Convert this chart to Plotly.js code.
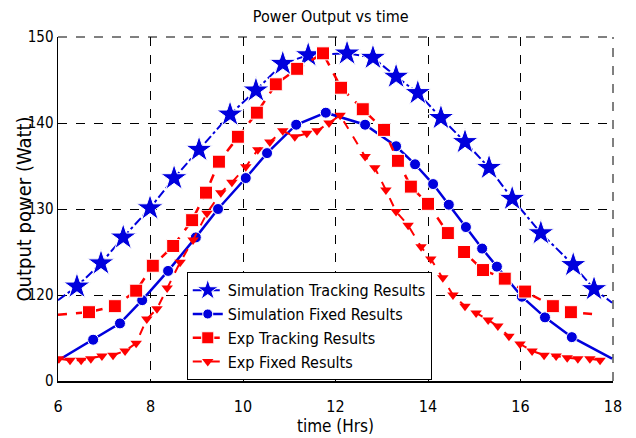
<!DOCTYPE html>
<html>
<head>
<meta charset="utf-8">
<script src="https://cdn.plot.ly/plotly-3.0.1.min.js"></script>
<style>
  html, body { margin: 0; padding: 0; background: #fff; }
  #chart { width: 636px; height: 438px; }
</style>
</head>
<body>
<div id="chart"></div>
<script>
// ---- Data (time in hours, power in Watt) ----
// First and last points of the first three series are line ends without a marker.
const simTrackX = [6.0, 6.41, 6.93, 7.41, 7.99, 8.51, 9.05, 9.72, 10.28, 10.86, 11.41, 12.25, 12.81, 13.31, 13.78, 14.28, 14.80, 15.32, 15.82, 16.44, 17.14, 17.59, 17.98];
const simTrackY = [119.4, 121.0, 123.7, 126.7, 130.1, 133.6, 136.9, 141.0, 143.8, 146.9, 147.9, 148.1, 147.6, 145.4, 143.5, 140.6, 137.8, 134.8, 131.2, 127.2, 123.5, 120.7, 119.1];

const simFixedX = [6.0, 6.76, 7.34, 7.82, 8.38, 8.98, 9.46, 10.06, 10.52, 11.15, 11.79, 12.64, 13.31, 13.72, 14.11, 14.45, 14.82, 15.17, 15.49, 16.03, 16.53, 17.11, 17.98];
const simFixedY = [112.4, 114.8, 116.7, 119.4, 122.8, 126.7, 130.0, 133.6, 136.5, 139.8, 141.2, 139.8, 137.3, 135.2, 132.9, 130.5, 127.9, 125.4, 123.3, 119.8, 117.4, 115.1, 112.6];

const expTrackX = [6.0, 6.67, 7.23, 7.69, 8.05, 8.49, 8.90, 9.20, 9.48, 9.89, 10.30, 10.71, 11.17, 11.73, 12.12, 12.59, 13.05, 13.35, 13.63, 14.00, 14.43, 14.78, 15.19, 15.66, 16.10, 16.70, 17.09, 17.72];
const expTrackY = [117.7, 118.0, 118.7, 120.5, 123.4, 125.7, 128.7, 131.9, 135.5, 138.4, 141.2, 144.5, 146.3, 148.1, 144.1, 141.6, 139.2, 135.6, 132.6, 130.6, 127.2, 125.0, 122.9, 121.9, 120.4, 118.7, 118.0, 117.7];

const expFixedX = [6.02, 6.26, 6.50, 6.71, 6.95, 7.19, 7.45, 7.69, 7.92, 8.14, 8.36, 8.64, 8.92, 9.22, 9.52, 9.76, 10.06, 10.32, 10.58, 10.86, 11.12, 11.38, 11.60, 11.86, 12.10, 12.64, 12.85, 13.09, 13.31, 13.57, 13.85, 14.06, 14.32, 14.54, 14.80, 15.04, 15.30, 15.51, 15.75, 15.99, 16.25, 16.51, 16.77, 17.01, 17.24, 17.50, 17.72];
const expFixedY = [112.6, 112.4, 112.4, 112.6, 112.9, 113.0, 113.5, 114.4, 117.2, 118.4, 120.8, 123.8, 126.4, 129.5, 131.9, 133.1, 134.9, 136.9, 137.8, 139.1, 138.4, 138.8, 139.1, 140.0, 140.9, 136.1, 134.8, 132.2, 129.7, 128.1, 125.6, 124.2, 122.0, 120.0, 118.7, 117.9, 117.1, 116.4, 115.2, 114.3, 113.5, 113.0, 112.9, 112.7, 112.6, 112.6, 112.4];

const seriesNames = ["Simulation Tracking Results", "Simulation Fixed Results", "Exp Tracking Results", "Exp Fixed Results"];
const yTickVals = [110, 120, 130, 140, 150];
const yTickText = ["0", "120", "130", "140", "150"];
const xTickVals = [6, 8, 10, 12, 14, 16, 18];
const chartTitle = "Power Output vs time";
const xTitle = "time (Hrs)";
const yTitle = "Output power (Watt)";

// ---- Styling ----
const BLUE = "#0000dd";
const RED = "#ff0000";
const FONT = "'Liberation Sans Narrow', 'DejaVu Sans Condensed', 'Arial Narrow', sans-serif";

function innerSizes(n, s) {
  return Array.from({length: n}, (_, i) => (i === 0 || i === n - 1) ? 0 : s);
}

const traces = [
  {
    x: simTrackX, y: simTrackY, name: seriesNames[0], mode: "lines+markers",
    line: {color: BLUE, width: 2, dash: "dashdot"},
    marker: {symbol: "star", color: BLUE, opacity: 1, size: innerSizes(simTrackX.length, 20)}
  },
  {
    x: simFixedX, y: simFixedY, name: seriesNames[1], mode: "lines+markers",
    line: {color: BLUE, width: 2.5},
    marker: {symbol: "circle", color: BLUE, opacity: 1, size: innerSizes(simFixedX.length, 11)}
  },
  {
    x: expTrackX, y: expTrackY, name: seriesNames[2], mode: "lines+markers",
    line: {color: RED, width: 2.5, dash: "dash"},
    marker: {symbol: "square", color: RED, opacity: 1, size: innerSizes(expTrackX.length, 13)}
  },
  {
    x: expFixedX, y: expFixedY, name: seriesNames[3], mode: "lines+markers",
    line: {color: RED, width: 2, dash: "dash"},
    marker: {symbol: "triangle-down", color: RED, opacity: 1, size: 10}
  }
];

const gridLine = {color: "#000", width: 1, dash: "dash"};

const layout = {
  width: 636, height: 438,
  margin: {l: 58, r: 23, t: 37, b: 57},
  paper_bgcolor: "#ffffff", plot_bgcolor: "#ffffff",
  font: {family: FONT, color: "#000", size: 15},
  title: {text: chartTitle, x: 0.52, xanchor: "center", y: 0.975, yanchor: "top",
          font: {family: FONT, size: 16, color: "#000"}},
  showlegend: true,
  legend: {
    x: 0.232, y: 0.316, xanchor: "left", yanchor: "top",
    bgcolor: "#ffffff", bordercolor: "#000", borderwidth: 1,
    font: {family: FONT, size: 16, color: "#000"},
    tracegroupgap: 0, itemwidth: 30
  },
  shapes: [
    {type: "line", xref: "paper", yref: "paper", x0: 0, x1: 1, y0: 1, y1: 1, line: gridLine},
    {type: "line", xref: "paper", yref: "paper", x0: 1, x1: 1, y0: 0, y1: 1, line: gridLine}
  ],
  annotations: [
    {text: yTitle, textangle: -90, xref: "paper", yref: "paper",
     x: -0.062, y: 0.5, xanchor: "center", yanchor: "middle", showarrow: false,
     font: {family: FONT, size: 20, color: "#000"}}
  ],
  xaxis: {
    range: [6, 18], tickvals: xTickVals, ticks: "",
    showgrid: true, gridcolor: "#000", griddash: "dash", gridwidth: 1,
    showline: true, linecolor: "#000", linewidth: 1.5, mirror: false,
    zeroline: false, tickfont: {family: FONT, size: 16}, ticklabelstandoff: 10,
    title: {text: xTitle, font: {family: FONT, size: 17}, standoff: 4}
  },
  yaxis: {
    range: [110, 150], tickvals: yTickVals, ticktext: yTickText, ticks: "",
    showgrid: true, gridcolor: "#000", griddash: "dash", gridwidth: 1,
    showline: true, linecolor: "#000", linewidth: 1.5, mirror: false,
    zeroline: false, tickfont: {family: FONT, size: 15}, ticklabelstandoff: 0
  }
};

Plotly.newPlot("chart", traces, layout, {displayModeBar: false, staticPlot: true});
</script>
</body>
</html>
